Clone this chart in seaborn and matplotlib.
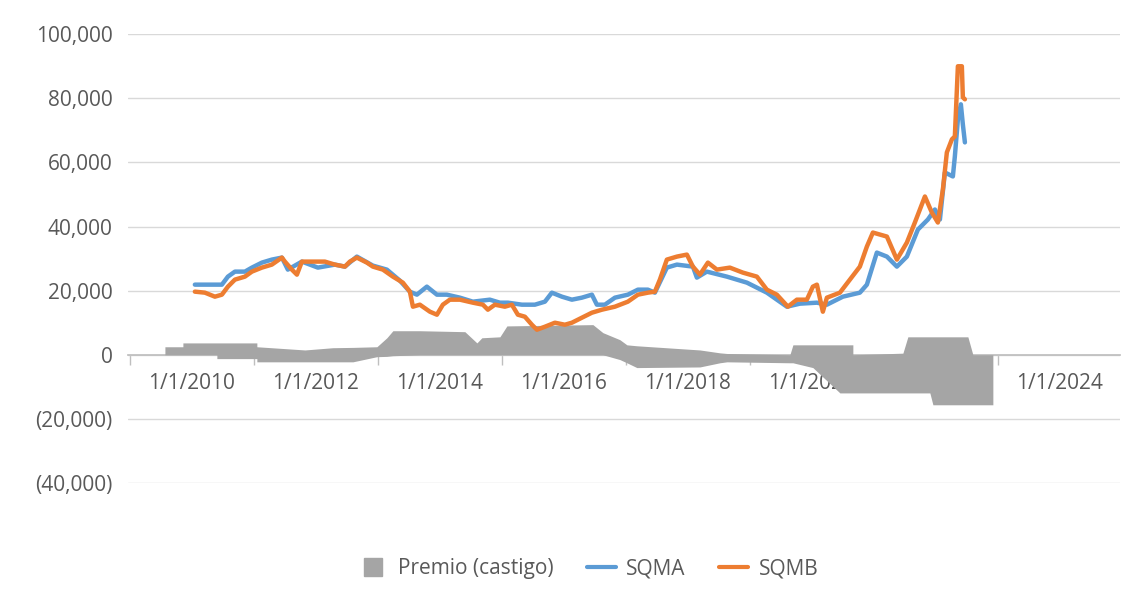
import matplotlib
matplotlib.use('Agg')

import numpy as np
import pandas as pd
import seaborn as sns
import matplotlib.pyplot as plt
from matplotlib.lines import Line2D
from matplotlib.ticker import FuncFormatter, FixedLocator

# SQMA (serie A), fecha en años decimales
sqma_years = [2010.048, 2010.484, 2010.581, 2010.694, 2010.855, 2010.968, 2011.129, 2011.290,
              2011.452, 2011.548, 2011.774, 2012.032, 2012.306, 2012.468, 2012.661, 2012.919,
              2013.145, 2013.355, 2013.516, 2013.629, 2013.790, 2013.952, 2014.113, 2014.323,
              2014.532, 2014.806, 2014.968, 2015.097, 2015.323, 2015.532, 2015.694, 2015.806,
              2015.968, 2016.129, 2016.290, 2016.452, 2016.532, 2016.661, 2016.823, 2017.032,
              2017.194, 2017.355, 2017.468, 2017.661, 2017.823, 2018.081, 2018.145, 2018.306,
              2018.629, 2018.952, 2019.274, 2019.597, 2019.806, 2020.081, 2020.242, 2020.500,
              2020.774, 2020.887, 2021.048, 2021.210, 2021.371, 2021.532, 2021.710, 2021.871,
              2021.984, 2022.065, 2022.145, 2022.274, 2022.306, 2022.355, 2022.403, 2022.435,
              2022.468]
sqma_values = [21875, 21875, 24375, 25938, 25938, 27188, 28750, 29688,
               30313, 26563, 29063, 27188, 28125, 27500, 30625, 27813,
               26563, 23125, 19688, 18750, 21250, 18750, 18750, 17813,
               16563, 17188, 16250, 16250, 15625, 15625, 16563, 19375,
               18125, 17188, 17813, 18750, 15625, 15625, 17813, 18750,
               20313, 20313, 19375, 27188, 28125, 27500, 24063, 25938,
               24375, 22500, 19375, 15000, 15938, 16250, 15625, 18125,
               19375, 21875, 31875, 30625, 27500, 30625, 39063, 42188,
               45313, 42188, 56875, 55625, 61875, 73438, 78125, 71875,
               66250]

# SQMB (serie B)
sqmb_years = [2010.048, 2010.210, 2010.371, 2010.484, 2010.581, 2010.694, 2010.855, 2010.968,
              2011.129, 2011.290, 2011.452, 2011.500, 2011.613, 2011.694, 2011.774, 2011.935,
              2012.145, 2012.306, 2012.468, 2012.548, 2012.661, 2012.823, 2012.919, 2013.081,
              2013.242, 2013.403, 2013.516, 2013.565, 2013.677, 2013.839, 2013.952, 2014.048,
              2014.161, 2014.323, 2014.532, 2014.694, 2014.774, 2014.887, 2015.048, 2015.161,
              2015.258, 2015.371, 2015.484, 2015.565, 2015.694, 2015.855, 2016.016, 2016.129,
              2016.290, 2016.452, 2016.613, 2016.823, 2017.032, 2017.194, 2017.355, 2017.468,
              2017.548, 2017.661, 2017.823, 2017.984, 2018.081, 2018.194, 2018.323, 2018.468,
              2018.677, 2018.887, 2019.113, 2019.274, 2019.435, 2019.613, 2019.758, 2019.919,
              2020.016, 2020.081, 2020.177, 2020.242, 2020.452, 2020.613, 2020.774, 2020.887,
              2020.984, 2021.210, 2021.371, 2021.532, 2021.661, 2021.823, 2021.935, 2022.032,
              2022.113, 2022.177, 2022.258, 2022.306, 2022.355, 2022.419, 2022.435, 2022.468]
sqmb_values = [19688, 19375, 18125, 18750, 21250, 23438, 24375, 25938,
               27188, 28125, 30313, 29063, 26563, 25000, 29063, 29063,
               29063, 28125, 27500, 29063, 30313, 28750, 27500, 26563,
               24375, 22500, 19688, 15000, 15625, 13438, 12500, 15625,
               17188, 17188, 16250, 15625, 14063, 15625, 15000, 15625,
               12500, 11875, 9375, 7813, 8750, 10000, 9375, 10000,
               11563, 13125, 14063, 15000, 16563, 18750, 19375, 19688,
               23438, 29688, 30625, 31250, 27500, 25000, 28750, 26563,
               27188, 25625, 24375, 20313, 18750, 15000, 17188, 17188,
               21250, 21875, 13438, 17813, 19375, 23438, 27500, 33750,
               38125, 36875, 29688, 35000, 41250, 49375, 44375, 41250,
               51563, 63125, 67188, 68125, 90000, 90000, 80313, 79688]

# Premio (castigo): borde superior e inferior del área
premio_years = [2009.565, 2009.565, 2009.855, 2009.855, 2010.403, 2010.403, 2011.048, 2011.048,
                2011.823, 2012.274, 2012.597, 2012.984, 2013.145, 2013.242, 2013.677, 2014.403,
                2014.597, 2014.677, 2014.968, 2015.081, 2016.468, 2016.629, 2016.903, 2017.016,
                2017.177, 2018.194, 2018.516, 2018.629, 2019.645, 2019.694, 2020.016, 2020.452,
                2020.661, 2020.661, 2021.468, 2021.548, 2021.903, 2021.952, 2022.516, 2022.597,
                2022.919, 2022.919]
premio_upper = [0, 2500, 2500, 3700, 3700, 3700, 3700, 2500,
                1500, 2200, 2300, 2500, 5300, 7500, 7500, 7200,
                3700, 5300, 5600, 9000, 9400, 6900, 4700, 3100,
                2800, 1500, 600, 400, 0, 3100, 3100, 3100,
                3100, 0, 500, 5600, 5600, 5600, 5600, 0,
                0, 0]
premio_lower = [0, 0, 0, 0, 0, -1200, -1200, -2200,
                -2200, -2200, -2200, -600, -500, -300, 0, 0,
                0, 0, 0, 0, 0, 0, -1500, -2500,
                -4000, -3800, -2500, -2200, -2500, -2500, -4000, -11900,
                -11900, -11900, -11900, -11900, -11900, -15600, -15600, -15600,
                -15600, 0]

label_years = [2010, 2012, 2014, 2016, 2018, 2020, 2022, 2024]

BLUE = '#5B9BD5'
ORANGE = '#ED7D31'
GRAY = '#A5A5A5'
TEXT = '#595959'

sns.set_theme(style="white")
plt.rcParams['font.family'] = ['Open Sans', 'DejaVu Sans']

fig = plt.figure(figsize=(11.38, 6.0), dpi=100)
ax = fig.add_axes([0.1125, 0.195, 0.8717, 0.748])

ax.fill_between(premio_years, premio_upper, premio_lower, color=GRAY, lw=0, zorder=1)

sqma = pd.DataFrame({"fecha": sqma_years, "valor": sqma_values})
sqmb = pd.DataFrame({"fecha": sqmb_years, "valor": sqmb_values})
sns.lineplot(data=sqma, x="fecha", y="valor", color=BLUE, lw=3.2, ax=ax, zorder=3)
sns.lineplot(data=sqmb, x="fecha", y="valor", color=ORANGE, lw=3.2, ax=ax, zorder=4)

ax.set_xlim(2008.97, 2024.97)
ax.set_ylim(-40000, 100000)
ax.set_xlabel("")
ax.set_ylabel("")

# eje y
ax.set_yticks(np.arange(-40000, 100001, 20000))
ax.yaxis.set_major_formatter(FuncFormatter(
    lambda v, p: f"{v:,.0f}" if v >= 0 else f"({-v:,.0f})"))
ax.tick_params(axis='y', length=0, pad=11, labelsize=15, labelcolor=TEXT)
ax.grid(axis='y', color='#D9D9D9', lw=1)

# eje x cruzando en 0
for s in ['left', 'right', 'top']:
    ax.spines[s].set_visible(False)
ax.spines['bottom'].set_position(('data', 0))
ax.spines['bottom'].set_color('#BFBFBF')
ax.spines['bottom'].set_zorder(0.6)
ax.xaxis.set_major_locator(FixedLocator(np.arange(2009, 2026, 2)))
ax.xaxis.set_major_formatter(FuncFormatter(lambda v, p: ""))
ax.xaxis.set_minor_locator(FixedLocator(label_years))
ax.xaxis.set_minor_formatter(FuncFormatter(lambda v, p: f"1/1/{int(round(v))}"))
ax.tick_params(axis='x', which='major', bottom=True, length=7, width=1, color='#BFBFBF', direction='out')
ax.tick_params(axis='x', which='minor', bottom=True, length=0, pad=13, labelsize=15, labelcolor=TEXT)

handles = [
    Line2D([], [], marker='s', color=GRAY, ms=13, ls='none'),
    Line2D([], [], color=BLUE, lw=3),
    Line2D([], [], color=ORANGE, lw=3),
]
fig.legend(handles, ["Premio (castigo)", "SQMA", "SQMB"], loc='center', bbox_to_anchor=(0.517, 0.052),
           ncol=3, frameon=False, fontsize=15, labelcolor=TEXT, handlelength=1.4,
           handletextpad=0.5, columnspacing=1.6)

fig.savefig("out.png", dpi=100)
